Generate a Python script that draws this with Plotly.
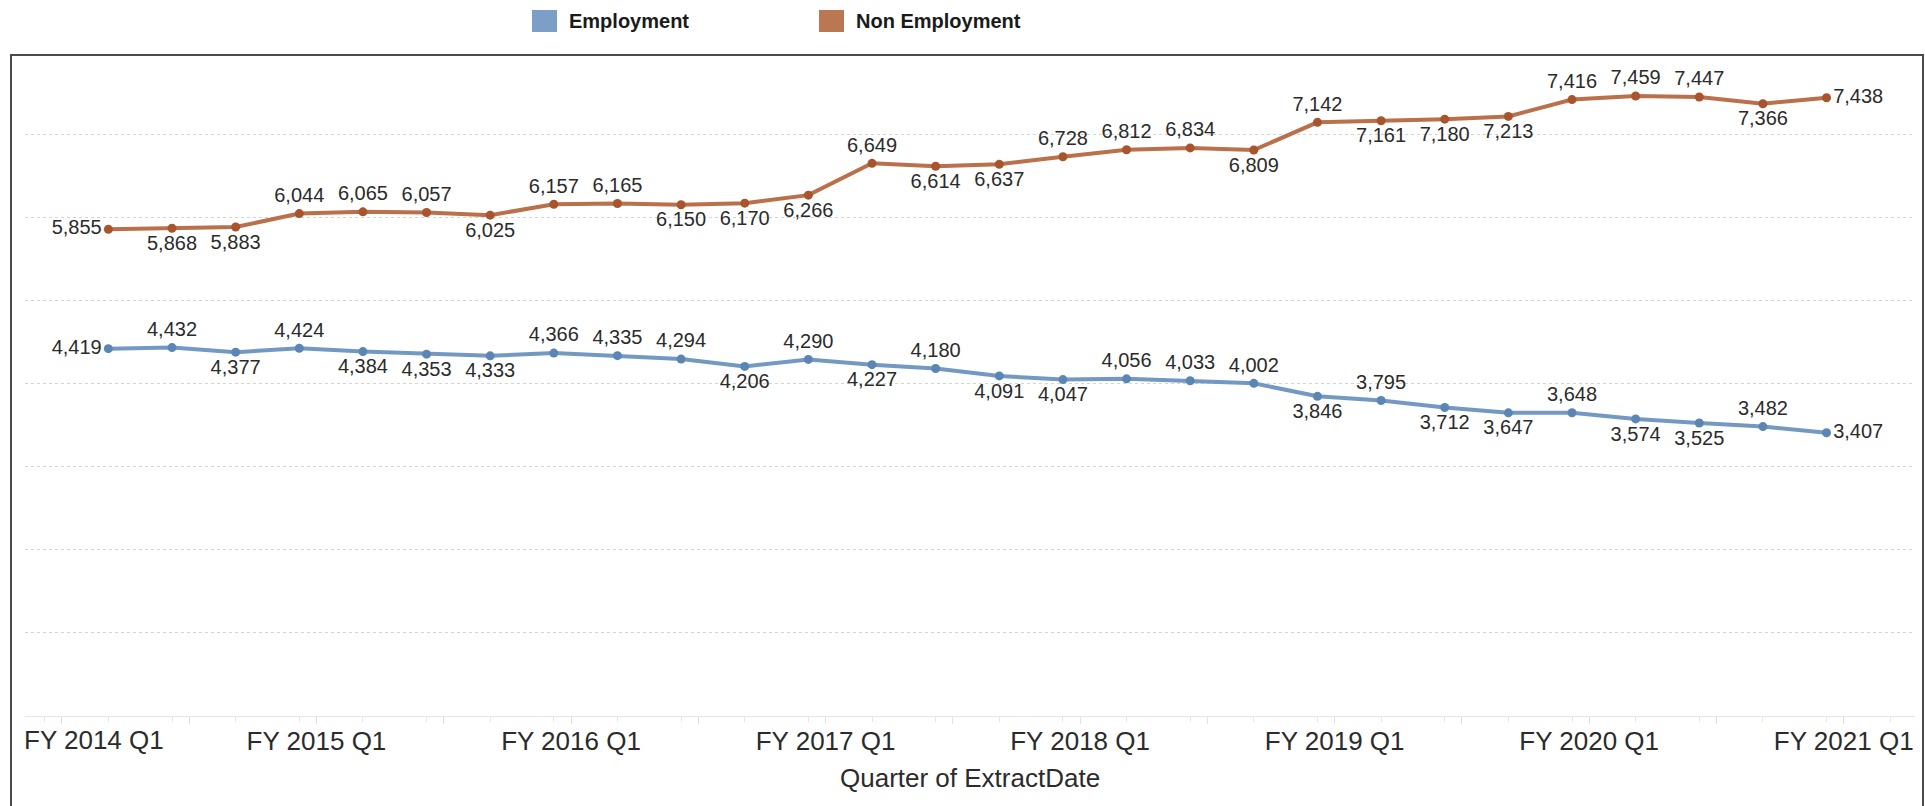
import plotly.graph_objects as go

# ---- data ----
quarter_index = list(range(28))
employment = [4419, 4432, 4377, 4424, 4384, 4353, 4333, 4366, 4335, 4294, 4206, 4290, 4227, 4180,
              4091, 4047, 4056, 4033, 4002, 3846, 3795, 3712, 3647, 3648, 3574, 3525, 3482, 3407]
non_employment = [5855, 5868, 5883, 6044, 6065, 6057, 6025, 6157, 6165, 6150, 6170, 6266, 6649, 6614,
                  6637, 6728, 6812, 6834, 6809, 7142, 7161, 7180, 7213, 7416, 7459, 7447, 7366, 7438]
emp_pos = ["middle left", "top center", "bottom center", "top center", "bottom center", "bottom center",
           "bottom center", "top center", "top center", "top center", "bottom center", "top center",
           "bottom center", "top center", "bottom center", "bottom center", "top center", "top center",
           "top center", "bottom center", "top center", "bottom center", "bottom center", "top center",
           "bottom center", "bottom center", "top center", "middle right"]
non_pos = ["middle left", "bottom center", "bottom center", "top center", "top center", "top center",
           "bottom center", "top center", "top center", "bottom center", "bottom center", "bottom center",
           "top center", "bottom center", "bottom center", "top center", "top center", "top center",
           "bottom center", "top center", "bottom center", "bottom center", "bottom center", "top center",
           "top center", "top center", "bottom center", "middle right"]
year_labels = ["FY 2014 Q1", "FY 2015 Q1", "FY 2016 Q1", "FY 2017 Q1", "FY 2018 Q1",
               "FY 2019 Q1", "FY 2020 Q1", "FY 2021 Q1"]
series_names = ["Employment", "Non Employment"]

# ---- styling / layout constants ----
W, H = 1925, 806
PL, PR, PT, PB = 25, 1915, 56, 716
XR = [-1.31, 28.39]
YR = [0, 7940]
TICK_OFFSET = -0.73
FONT = "Arial, Liberation Sans, sans-serif"

EMP_LINE, EMP_MARK, EMP_LEG = "#7399c3", "#5b86b4", "#7b9fc6"
NON_LINE, NON_MARK, NON_LEG = "#b9704b", "#a8542d", "#bb7752"


def px2x(px):
    return (px - PL) / (PR - PL)


def py2y(py):
    return (PB - py) / (PB - PT)


fig = go.Figure()

fig.add_trace(go.Scatter(
    x=quarter_index, y=employment, mode="lines+markers+text", name=series_names[0],
    line=dict(color=EMP_LINE, width=4), marker=dict(color=EMP_MARK, size=9),
    text=[f"{v:,}" for v in employment], textposition=emp_pos,
    textfont=dict(family=FONT, size=20, color="#2b2b2b"), cliponaxis=False,
))
fig.add_trace(go.Scatter(
    x=quarter_index, y=non_employment, mode="lines+markers+text", name=series_names[1],
    line=dict(color=NON_LINE, width=4), marker=dict(color=NON_MARK, size=9),
    text=[f"{v:,}" for v in non_employment], textposition=non_pos,
    textfont=dict(family=FONT, size=20, color="#2b2b2b"), cliponaxis=False,
))

# x ticks: major every 2 quarters (labels every 4), minor every quarter
major_vals, major_text = [], []
for k in range(len(year_labels)):
    major_vals.append(4 * k + TICK_OFFSET)
    major_text.append("" if k == 0 else year_labels[k])
    if k < len(year_labels) - 1:
        major_vals.append(4 * k + 2 + TICK_OFFSET)
        major_text.append("")

fig.update_xaxes(
    range=XR, tickmode="array", tickvals=major_vals, ticktext=major_text,
    ticks="outside", ticklen=7, tickcolor="#e2e2e2", tickwidth=1, ticklabelstandoff=-5,
    tickfont=dict(family=FONT, size=26, color="#2b2b2b"),
    showgrid=False, zeroline=False, showline=True, linecolor="#e6e6e6", linewidth=1,
    minor=dict(tickmode="array", tickvals=list(range(-1, 29)), ticks="outside",
               ticklen=5, tickcolor="#e6e6e6", showgrid=False),
)
fig.update_yaxes(
    range=YR, dtick=1000, showticklabels=False, showgrid=True, gridcolor="#d4d4d4",
    griddash="dot", gridwidth=1, zeroline=False, showline=False,
)

annotations = [
    dict(text=year_labels[0], x=px2x(22), y=py2y(740), xref="paper", yref="paper",
         xanchor="left", yanchor="middle", showarrow=False,
         font=dict(family=FONT, size=26, color="#2b2b2b")),
    dict(text="Quarter of ExtractDate", x=px2x(970), y=py2y(778), xref="paper", yref="paper",
         xanchor="center", yanchor="middle", showarrow=False,
         font=dict(family=FONT, size=26, color="#2b2b2b")),
]
shapes = []
# legend
for name, col, sq_left, txt_left in [(series_names[0], EMP_LEG, 532, 567),
                                     (series_names[1], NON_LEG, 819, 854)]:
    shapes.append(dict(type="rect", xref="paper", yref="paper",
                       x0=px2x(sq_left), x1=px2x(sq_left + 25), y0=py2y(32), y1=py2y(10),
                       fillcolor=col, line=dict(width=0)))
    annotations.append(dict(text=f"<b>{name}</b>", x=px2x(txt_left), y=py2y(21),
                            xref="paper", yref="paper", xanchor="left", yanchor="middle",
                            showarrow=False, font=dict(family=FONT, size=20, color="#1a1a1a")))

# outer frame (left, top, right)
shapes.append(dict(type="path", xref="paper", yref="paper",
                   path=f"M {px2x(11)},{py2y(830)} L {px2x(11)},{py2y(55)} "
                        f"L {px2x(1923)},{py2y(55)} L {px2x(1923)},{py2y(830)}",
                   line=dict(color="#4a4a4a", width=2)))

fig.update_layout(
    width=W, height=H, autosize=False,
    margin=dict(l=PL, r=W - PR, t=PT, b=H - PB, pad=0),
    paper_bgcolor="white", plot_bgcolor="white", showlegend=False,
    annotations=annotations, shapes=shapes,
    font=dict(family=FONT),
)

fig.write_html("out.html")
